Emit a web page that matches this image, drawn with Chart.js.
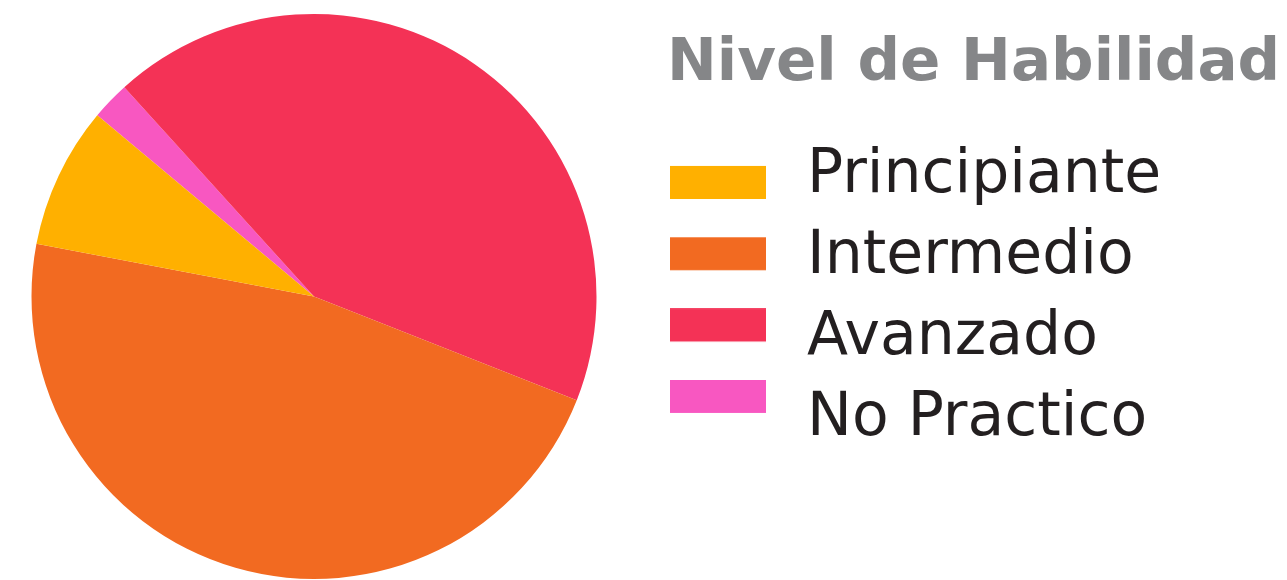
<!DOCTYPE html>
<html>
<head>
<meta charset="utf-8">
<script src="https://cdn.jsdelivr.net/npm/chart.js@4/dist/chart.umd.min.js"></script>
<style>
html,body{margin:0;padding:0;background:#ffffff;overflow:hidden;}
#wrap{width:1287px;height:580px;position:relative;overflow:hidden;}
#c{position:absolute;left:-39px;top:0;}
</style>
</head>
<body>
<div id="wrap"><canvas id="c" width="1326" height="580"></canvas></div>
<script>
// ---- data ----
const categories = ['Principiante', 'Intermedio', 'Avanzado', 'No Practico'];
const values = [8.1, 47.0, 42.7, 2.2];
const colors = ['#FFB000', '#F26A21', '#F43256', '#F857C1'];
const legendTitle = 'Nivel de Habilidad';

// ---- style constants (canvas coords; canvas is shifted 39px left) ----
const SHIFT = 39;
const CW = 1326;
const labelSize = 60;
const labelFamily = "'DejaVu Sans'";
const titleSize = 59.5;
const titleFamily = "'DejaVu Sans'";
const pad = 21;                      // legend row padding
const legendLeft = 667 + SHIFT;      // legend box left (title start)
const textStart = 807 + SHIFT;       // label text x
const swLeft = 670 + SHIFT, swW = 96, swH = 33;
const swDy = [6, -3.7, -13.4, -23];  // box centre offset from row centre (legend order)

// reference slices run counter-clockwise, Chart.js draws clockwise -> reverse
const order = categories.map((_, i) => categories.length - 1 - i);
const pieLabels = order.map(i => categories[i]);
const pieValues = order.map(i => values[i]);
const pieColors = order.map(i => colors[i]);

// legend swatch geometry
const cursorX = legendLeft + pad;
const P = textStart - cursorX - labelSize / 2;      // pointStyleWidth
const cx = cursorX + P / 2;
const halfW = Math.max(cx - swLeft, swLeft + swW - cx);
const imgW = Math.ceil(halfW * 2);
const rectX = imgW / 2 - (cx - swLeft);

function makeSwatch(color, dy) {
  const halfH = swH / 2 + Math.abs(dy);
  const imgH = Math.ceil(halfH * 2);
  const cv = document.createElement('canvas');
  cv.width = imgW; cv.height = imgH;
  const g = cv.getContext('2d');
  g.fillStyle = color;
  g.fillRect(rectX, imgH / 2 + dy - swH / 2, swW, swH);
  return cv;
}
// swatches indexed by legend (category) order
const swatches = categories.map((_, i) => makeSwatch(colors[i], swDy[i]));

// measure label widths to size the legend box
const mctx = document.createElement('canvas').getContext('2d');
mctx.font = 'normal ' + labelSize + 'px ' + labelFamily;
const tw = Math.max(...categories.map(t => mctx.measureText(t).width));
const legendW = pad + P + labelSize / 2 + tw + 10;
const padRight = CW - legendLeft - legendW;

// let the legend title run past the label column (avoid clipping)
const legendClip = {
  id: 'legendClip',
  afterLayout(chart) { if (chart.legend) chart.legend.right = chart.width; }
};

new Chart(document.getElementById('c'), {
  type: 'pie',
  data: {
    labels: pieLabels,
    datasets: [{
      data: pieValues,
      backgroundColor: pieColors,
      borderWidth: 0
    }]
  },
  plugins: [legendClip],
  options: {
    responsive: false,
    animation: false,
    rotation: 309.9,
    layout: { padding: { left: 0, right: padRight, top: 14, bottom: 1 } },
    plugins: {
      tooltip: { enabled: false },
      legend: {
        position: 'right',
        align: 'start',
        reverse: true,
        title: {
          display: true,
          text: legendTitle,
          position: 'start',
          color: '#858688',
          font: { family: titleFamily, size: titleSize, weight: 'bold' },
          padding: { top: 21, bottom: 19 }
        },
        labels: {
          usePointStyle: true,
          pointStyleWidth: P,
          padding: pad,
          color: '#231F20',
          font: { family: labelFamily, size: labelSize },
          generateLabels(chart) {
            const items = Chart.overrides.pie.plugins.legend.labels.generateLabels(chart);
            items.forEach(it => { it.pointStyle = swatches[order[it.index]]; });
            return items;
          }
        }
      }
    }
  }
});
</script>
</body>
</html>
